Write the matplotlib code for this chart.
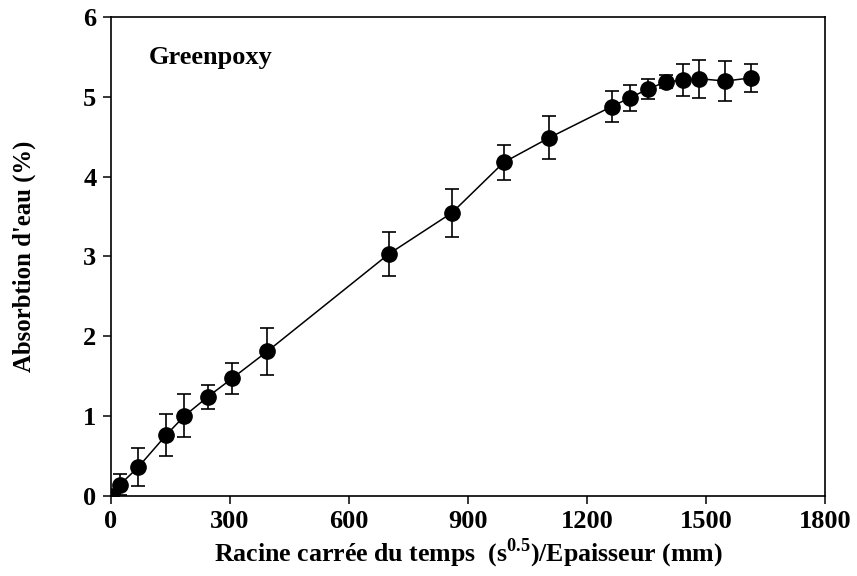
import matplotlib
matplotlib.use("Agg")
import matplotlib.pyplot as plt

x_vals = [0, 23, 69, 139, 185, 244, 305, 394, 700, 860, 990, 1105, 1262, 1308, 1354, 1398, 1441, 1482, 1549, 1613]
y_vals = [0.0, 0.14, 0.36, 0.76, 1.00, 1.24, 1.47, 1.81, 3.03, 3.55, 4.18, 4.49, 4.88, 4.99, 5.10, 5.19, 5.21, 5.23, 5.20, 5.24]
y_err = [0.0, 0.13, 0.24, 0.26, 0.27, 0.15, 0.20, 0.29, 0.28, 0.30, 0.22, 0.27, 0.19, 0.16, 0.12, 0.08, 0.20, 0.24, 0.25, 0.18]
x_ticks = [0, 300, 600, 900, 1200, 1500, 1800]
y_ticks = [0, 1, 2, 3, 4, 5, 6]

plt.rcParams['font.family'] = ['Liberation Serif', 'DejaVu Serif']
plt.rcParams['mathtext.fontset'] = 'custom'
plt.rcParams['mathtext.rm'] = 'Liberation Serif:bold'
plt.rcParams['mathtext.bf'] = 'Liberation Serif:bold'

fig = plt.figure(figsize=(8.57, 5.76), dpi=100)
ax = fig.add_axes([0.1295, 0.1394, 0.9627 - 0.1295, 0.97 - 0.1394])

ax.plot(x_vals, y_vals, color='black', lw=1.1, zorder=2)
ax.errorbar(x_vals, y_vals, yerr=y_err, fmt='o', color='black', ms=11,
            ecolor='black', elinewidth=1.2, capsize=5, capthick=1.2, zorder=3)

ax.set_xlim(0, 1800)
ax.set_ylim(0, 6)
ax.set_xticks(x_ticks)
ax.set_yticks(y_ticks)
ax.tick_params(direction='out', length=5.5, width=1.1, labelsize=19, pad=5)
for lab in ax.get_xticklabels() + ax.get_yticklabels():
    lab.set_fontweight('bold')
for sp in ax.spines.values():
    sp.set_linewidth(1.2)

ax.set_xlabel(r"Racine carrée du temps  (s$^{\mathbf{0.5}}$)/Epaisseur (mm)",
              fontsize=18.6, fontweight='bold', labelpad=2)
ax.set_ylabel("Absorbtion d'eau (%)", fontsize=17.8, fontweight='bold', labelpad=34)

ax.text(95, 5.5, "Greenpoxy", fontsize=19, fontweight='bold', ha='left', va='center')

fig.savefig("out.png", dpi=100)
